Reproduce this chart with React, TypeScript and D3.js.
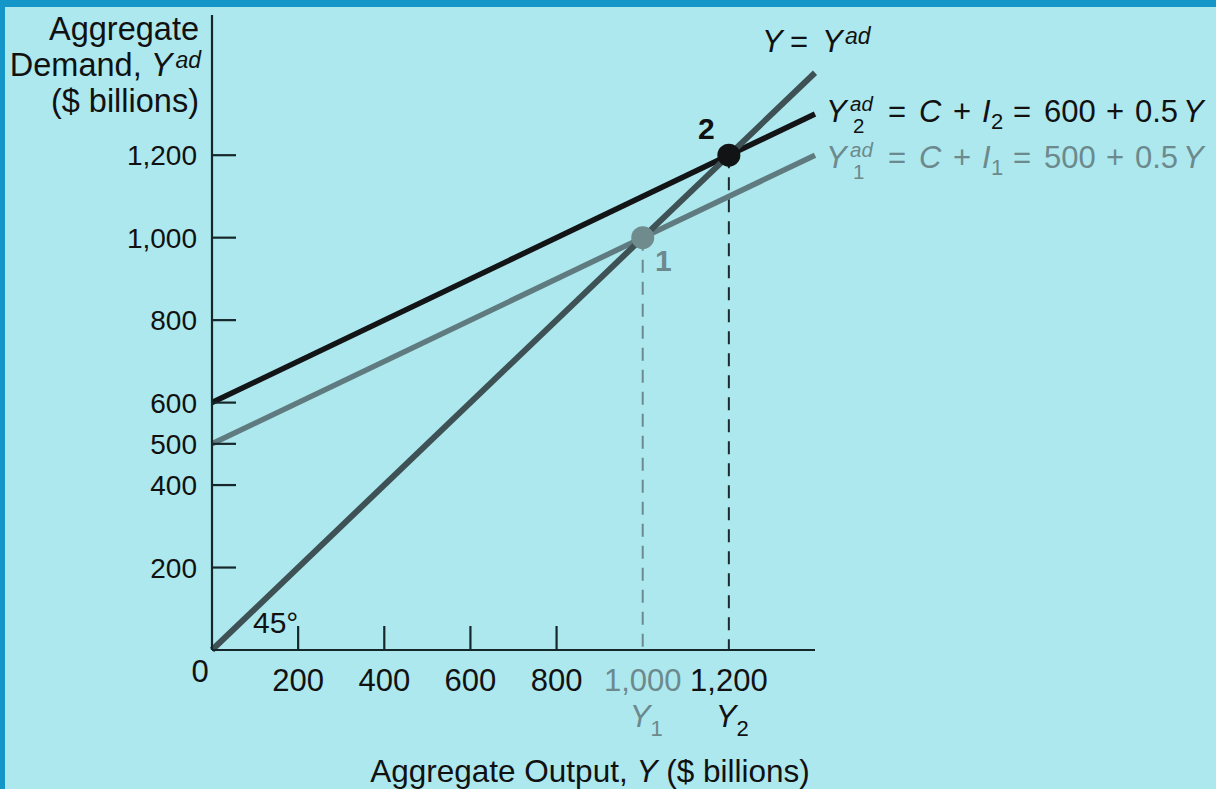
import React from "react";
import * as d3 from "d3";

// Keynesian cross: aggregate demand vs. aggregate output ($ billions)
const outputTicks = [200, 400, 600, 800, 1000, 1200];
const outputTickLabels = ["200", "400", "600", "800", "1,000", "1,200"];
const demandTicks = [200, 400, 500, 600, 800, 1000, 1200];
const demandTickLabels = ["200", "400", "500", "600", "800", "1,000", "1,200"];
const outputDomain = [0, 1400];
const demandDomain = [0, 1540];

// autonomous spending (C + I) for the two demand schedules, and the MPC
const autonomousSpending = [500, 600];
const mpc = [0.5, 0.5];

// equilibrium outputs where Y = Yad
const equilibriumOutput = [1000, 1200];
const equilibriumLabels = ["1", "2"];

const W = 1216;
const H = 789;
const FONT = "'Liberation Sans', Arial, Helvetica, sans-serif";

const BG = "#ade8ee";
const BAND = "#1497c8";
const AXIS = "#16272b";
const C45 = "#3e5256";
const C_AD2 = "#121416";
const C_AD1 = "#5f7b7f";
const C_LABEL1 = "#6c8a8d";
const C_PT1 = "#6f8b8d";

export default function App() {
  const x = d3.scaleLinear().domain(outputDomain).range([212, 815]);
  const y = d3.scaleLinear().domain(demandDomain).range([650, 15]);

  const line = d3
    .line<[number, number]>()
    .x((d) => x(d[0]))
    .y((d) => y(d[1]));

  const xMax = outputDomain[1];
  const ad = autonomousSpending.map((a, i) => [
    [0, a],
    [xMax, a + mpc[i] * xMax],
  ] as [number, number][]);
  const fortyFive: [number, number][] = [
    [0, 0],
    [xMax, xMax],
  ];

  const fs = 31.5;
  const sfs = 22;
  const lineColors = [C_AD1, C_AD2];
  const pointColors = [C_PT1, "#111315"];
  const dashColors = ["#6c8a8d", "#1c2a2e"];

  return (
    <div style={{ position: "fixed", left: 0, top: 0 }}>
      <svg width={W} height={H} style={{ display: "block" }} fontFamily={FONT}>
        <rect x={0} y={0} width={W} height={H} fill={BG} />
        <rect x={0} y={0} width={W} height={7} fill={BAND} />
        <rect x={0} y={0} width={5} height={H} fill={BAND} />

        {/* y-axis title */}
        <g fontSize={32.5} fill="#111" textAnchor="end">
          <text x={199} y={40}>Aggregate</text>
          <text x={201} y={76}>
            Demand,{" "}
            <tspan fontStyle="italic">Y</tspan>
            <tspan fontStyle="italic" fontSize={sfs + 1} dy={-8} dx={3}>ad</tspan>
          </text>
          <text x={199} y={112}>($ billions)</text>
        </g>

        {/* equilibrium drop lines */}
        {equilibriumOutput.map((e, i) => (
          <line
            key={"d" + i}
            x1={x(e)}
            x2={x(e)}
            y1={y(e)}
            y2={y(0)}
            stroke={dashColors[i]}
            strokeWidth={2}
            strokeDasharray="13 9"
          />
        ))}

        {/* demand schedules and 45-degree line */}
        {ad.map((pts, i) => (
          <path key={"ad" + i} d={line(pts) ?? ""} stroke={lineColors[i]} strokeWidth={5.5} fill="none" />
        ))}
        <path d={line(fortyFive) ?? ""} stroke={C45} strokeWidth={6} fill="none" />

        {/* axes */}
        <line x1={x(0)} x2={x(0)} y1={y(demandDomain[1])} y2={y(0)} stroke={AXIS} strokeWidth={2.2} />
        <line x1={x(0)} x2={x(xMax)} y1={y(0)} y2={y(0)} stroke={AXIS} strokeWidth={2.2} />

        {demandTicks.map((t, i) => (
          <g key={"yt" + i}>
            <line x1={x(0)} x2={x(0) + 24} y1={y(t)} y2={y(t)} stroke={AXIS} strokeWidth={2.2} />
            <text x={197} y={y(t) + 10} fontSize={28} textAnchor="end" fill="#111">
              {demandTickLabels[i]}
            </text>
          </g>
        ))}

        {outputTicks.map((t, i) => {
          const isEq = equilibriumOutput.includes(t);
          return (
            <g key={"xt" + i}>
              {!isEq && (
                <line x1={x(t)} x2={x(t)} y1={y(0)} y2={y(0) - 24} stroke={AXIS} strokeWidth={2.2} />
              )}
              <text
                x={x(t)}
                y={691}
                fontSize={31}
                textAnchor="middle"
                fill={t === equilibriumOutput[0] ? C_LABEL1 : "#111"}
              >
                {outputTickLabels[i]}
              </text>
            </g>
          );
        })}
        <text x={200} y={682} fontSize={31} textAnchor="middle" fill="#111">0</text>

        {/* Y1, Y2 under the equilibrium outputs */}
        {equilibriumOutput.map((e, i) => (
          <text key={"yl" + i} x={x(e) - 13} y={727} fontSize={31} fill={i === 0 ? C_LABEL1 : "#111"}>
            <tspan fontStyle="italic">Y</tspan>
            <tspan fontSize={sfs} dy={9}>{i + 1}</tspan>
          </text>
        ))}

        <text x={590} y={782} fontSize={fs} textAnchor="middle" fill="#111">
          Aggregate Output, <tspan fontStyle="italic">Y</tspan> ($ billions)
        </text>

        <text x={253} y={633} fontSize={30} fill="#111">45°</text>

        {/* equilibrium points */}
        {equilibriumOutput.map((e, i) => (
          <circle key={"p" + i} cx={x(e)} cy={y(e)} r={11.5} fill={pointColors[i]} />
        ))}
        <text x={655} y={271} fontSize={30} fontWeight="bold" fill={C_LABEL1}>
          {equilibriumLabels[0]}
        </text>
        <text x={698} y={139} fontSize={30} fontWeight="bold" fill="#111">
          {equilibriumLabels[1]}
        </text>

        {/* line labels */}
        <g fontSize={31} fill="#111">
          <text x={762} y={52} fontStyle="italic">Y</text>
          <text x={790} y={52}>=</text>
          <text x={822} y={52} fontStyle="italic">Y</text>
          <text x={845} y={44} fontStyle="italic" fontSize={sfs + 1}>ad</text>
        </g>

        {[1, 0].map((i, k) => {
          const base = k === 0 ? 122 : 168;
          const col = k === 0 ? "#111" : C_LABEL1;
          return (
            <g key={"eq" + i} fill={col} fontSize={31}>
              <text x={826} y={base} fontStyle="italic">Y</text>
              <text x={850} y={base - 11} fontSize={20.5} fontStyle="italic">ad</text>
              <text x={853} y={base + 11} fontSize={20.5}>{i + 1}</text>
              <text x={888} y={base}>=</text>
              <text x={919} y={base} fontStyle="italic">C</text>
              <text x={953} y={base}>+</text>
              <text x={982} y={base} fontStyle="italic">I</text>
              <text x={991} y={base + 7} fontSize={sfs}>{i + 1}</text>
              <text x={1013} y={base}>=</text>
              <text x={1044} y={base}>{autonomousSpending[i]}</text>
              <text x={1106} y={base}>+</text>
              <text x={1135} y={base}>{mpc[i]}</text>
              <text x={1183} y={base} fontStyle="italic">Y</text>
            </g>
          );
        })}
      </svg>
    </div>
  );
}
